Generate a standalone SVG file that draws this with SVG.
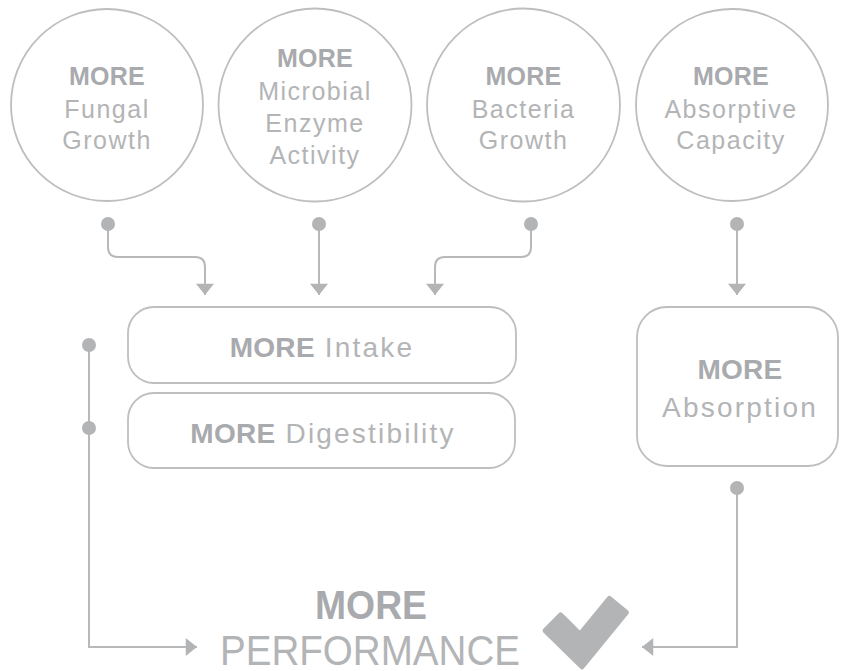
<svg xmlns="http://www.w3.org/2000/svg" width="846" height="671" viewBox="0 0 846 671">
<defs>
<style>
.ring{fill:none;stroke:#bdbebf;stroke-width:1.8}
.box{fill:none;stroke:#bdbebf;stroke-width:1.8}
.t{font-family:"Liberation Sans",Arial,sans-serif;fill:#b3b4b6;text-anchor:middle}
.c{font-size:25px;letter-spacing:1.5px}
.b{font-weight:bold;fill:#a8aaad;letter-spacing:0.3px}
.bx{font-size:28px;letter-spacing:2.2px}
.ln{fill:none;stroke:#b7b8ba;stroke-width:2}
.dot{fill:#b3b4b6}
</style>
<marker id="arr" markerUnits="userSpaceOnUse" markerWidth="12" markerHeight="18" viewBox="0 0 10 16" refX="10" refY="8" orient="auto">
<path d="M0,0 L10,8 L0,16 Z" fill="#b3b4b6"/>
</marker>
</defs>
<rect width="846" height="671" fill="#ffffff"/>

<g id="n-fungal">
<circle class="ring" cx="107" cy="105" r="96"/>
<text class="t c" x="107"><tspan class="b" x="107" y="85">MORE</tspan><tspan x="107" y="118">Fungal</tspan><tspan x="107" y="149">Growth</tspan></text>
</g>
<g id="n-enzyme">
<circle class="ring" cx="315" cy="105" r="96.5"/>
<text class="t c" x="315"><tspan class="b" x="315" y="67">MORE</tspan><tspan x="315" y="100">Microbial</tspan><tspan x="315" y="132">Enzyme</tspan><tspan x="315" y="164">Activity</tspan></text>
</g>
<g id="n-bacteria">
<circle class="ring" cx="523.5" cy="105" r="96.5"/>
<text class="t c" x="523.5"><tspan class="b" x="523.5" y="85">MORE</tspan><tspan x="523.5" y="118">Bacteria</tspan><tspan x="523.5" y="149">Growth</tspan></text>
</g>
<g id="n-absorptive">
<circle class="ring" cx="732" cy="105" r="96"/>
<text class="t c" x="731"><tspan class="b" x="731" y="85">MORE</tspan><tspan x="731" y="118">Absorptive</tspan><tspan x="731" y="149">Capacity</tspan></text>
</g>

<g id="n-intake">
<rect class="box" x="128" y="307" width="388" height="76" rx="26"/>
<text class="t bx" x="322" y="357"><tspan class="b">MORE</tspan> Intake</text>
</g>
<g id="n-digest">
<rect class="box" x="128" y="393" width="387" height="75" rx="26"/>
<text class="t bx" x="323" y="443"><tspan class="b">MORE</tspan> Digestibility</text>
</g>
<g id="n-absorption">
<rect class="box" x="637" y="307" width="201" height="159" rx="30"/>
<text class="t bx" x="740" y="379"><tspan class="b">MORE</tspan></text>
<text class="t bx" x="740" y="417">Absorption</text>
</g>

<g id="n-performance">
<text class="t" x="315" y="619" style="font-size:41px;font-weight:bold;fill:#a8aaad;text-anchor:start" textLength="112" lengthAdjust="spacingAndGlyphs">MORE</text>
<text class="t" x="220" y="665" style="font-size:42px;text-anchor:start" textLength="300" lengthAdjust="spacingAndGlyphs">PERFORMANCE</text>
<polygon points="560.5,614.9 580.1,634.2 609.4,598.4 626.4,612.4 581.9,666.8 545.1,630.6" fill="#b3b4b6" stroke="#b3b4b6" stroke-width="5" stroke-linejoin="round"/>
</g>

<g id="connectors">
<path class="ln" d="M108,224 V247 Q108,257 118,257 H195 Q205,257 205,267 V295" marker-end="url(#arr)"/>
<path class="ln" d="M319,224 V295" marker-end="url(#arr)"/>
<path class="ln" d="M531,224 V247 Q531,257 521,257 H445 Q435,257 435,267 V295" marker-end="url(#arr)"/>
<path class="ln" d="M737,224 V295" marker-end="url(#arr)"/>
<path class="ln" d="M89,345 V647 H197" marker-end="url(#arr)"/>
<path class="ln" d="M737,488 V647 H642" marker-end="url(#arr)"/>
<circle class="dot" cx="108" cy="224" r="7"/>
<circle class="dot" cx="319" cy="224" r="7"/>
<circle class="dot" cx="531" cy="224" r="7"/>
<circle class="dot" cx="737" cy="224" r="7"/>
<circle class="dot" cx="89" cy="345" r="7"/>
<circle class="dot" cx="89" cy="428" r="7"/>
<circle class="dot" cx="737" cy="488" r="7"/>
</g>
</svg>
